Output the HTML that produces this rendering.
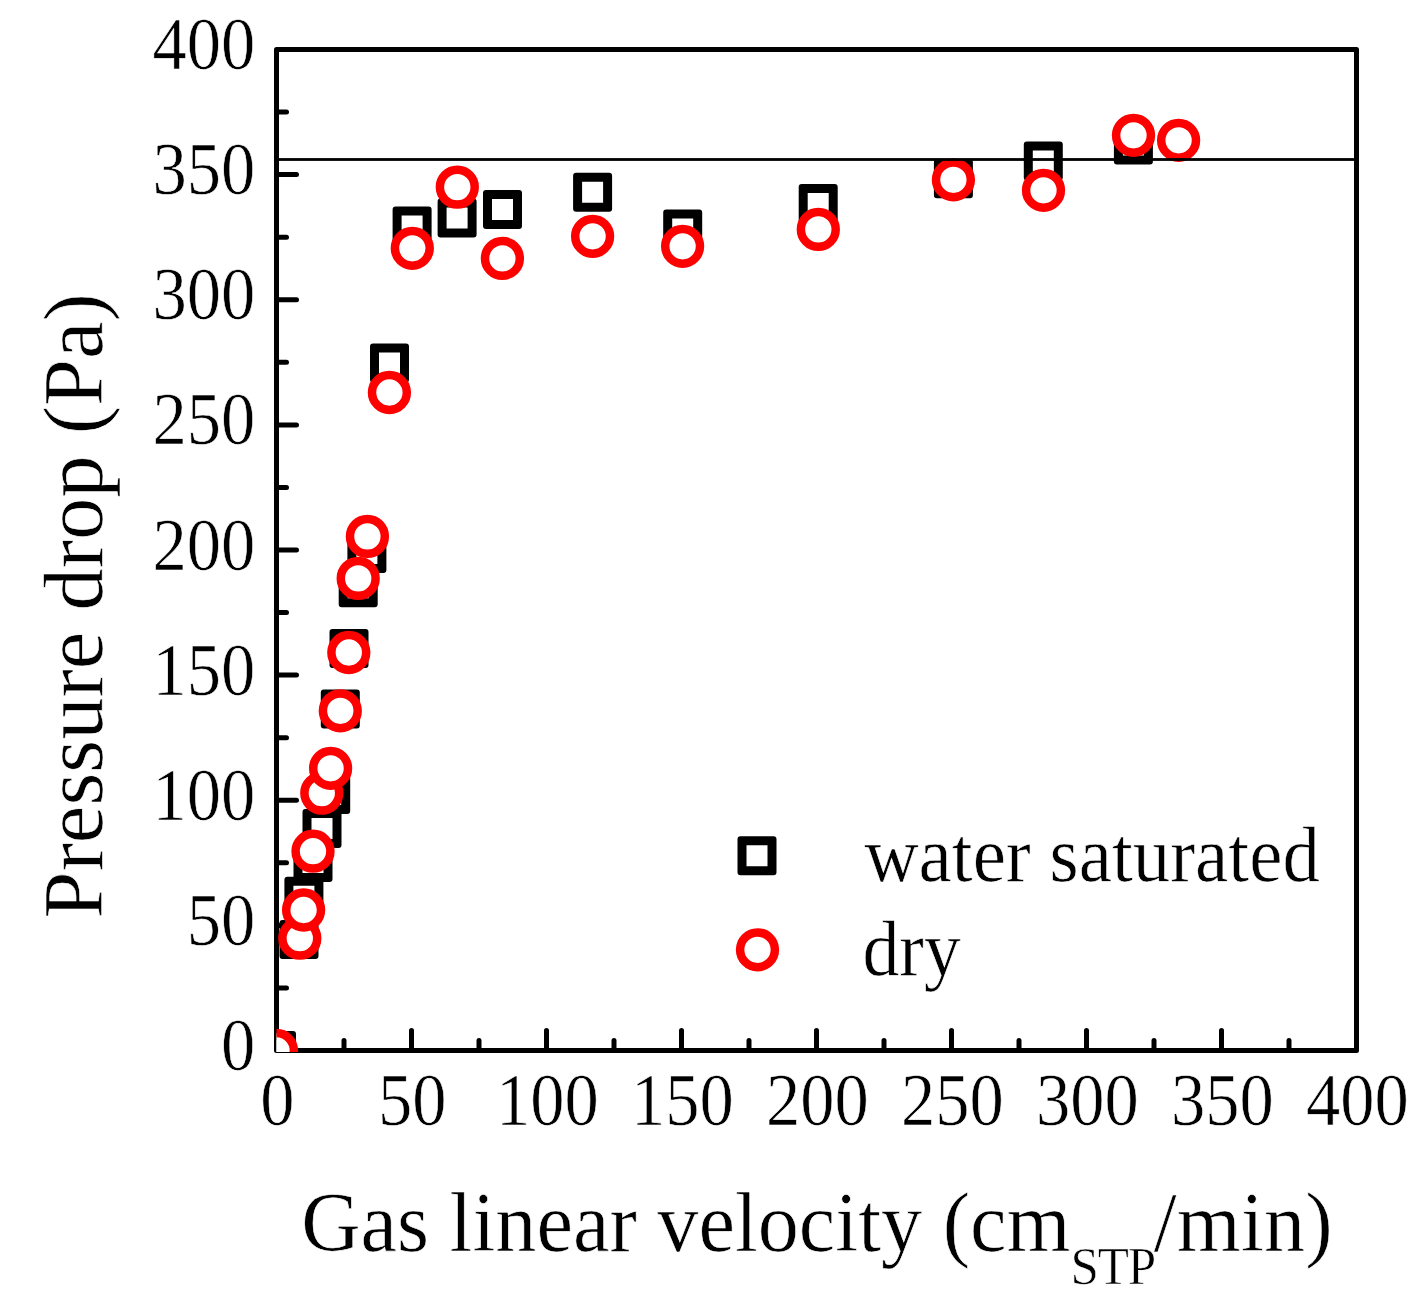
<!DOCTYPE html>
<html><head><meta charset="utf-8"><title>Pressure drop vs gas linear velocity</title>
<style>html,body{margin:0;padding:0;background:#fff;}body{width:1428px;height:1306px;overflow:hidden;}svg{display:block;}text{font-family:"Liberation Serif",serif;fill:#000;stroke:#fff;stroke-width:0.6px;}</style></head><body>
<svg width="1428" height="1306" viewBox="0 0 1428 1306">
<rect x="0" y="0" width="1428" height="1306" fill="#fff"/>
<defs><g id="sq"><rect x="-15" y="-15" width="30" height="30" fill="#fff"/><path fill="#000" fill-rule="evenodd" d="M-16.5 -19.5H16.5A3 3 0 0 1 19.5 -16.5V16.5A3 3 0 0 1 16.5 19.5H-16.5A3 3 0 0 1 -19.5 16.5V-16.5A3 3 0 0 1 -16.5 -19.5ZM-10.5 -10.5V10.5H10.5V-10.5Z"/></g></defs>
<defs><clipPath id="pc"><rect x="276.5" y="49.5" width="1081.5" height="1002.5"/></clipPath></defs>
<rect x="276.5" y="49.5" width="1080.0" height="1001.0" fill="none" stroke="#000" stroke-width="5" stroke-linejoin="round"/>
<path d="M344.00 1048.0V1040.5M279.0 987.94H286.5M411.50 1048.0V1030.5M279.0 925.38H296.5M479.00 1048.0V1040.5M279.0 862.81H286.5M546.50 1048.0V1030.5M279.0 800.25H296.5M614.00 1048.0V1040.5M279.0 737.69H286.5M681.50 1048.0V1030.5M279.0 675.12H296.5M749.00 1048.0V1040.5M279.0 612.56H286.5M816.50 1048.0V1030.5M279.0 550.00H296.5M884.00 1048.0V1040.5M279.0 487.44H286.5M951.50 1048.0V1030.5M279.0 424.88H296.5M1019.00 1048.0V1040.5M279.0 362.31H286.5M1086.50 1048.0V1030.5M279.0 299.75H296.5M1154.00 1048.0V1040.5M279.0 237.19H286.5M1221.50 1048.0V1030.5M279.0 174.62H296.5M1289.00 1048.0V1040.5M279.0 112.06H286.5" stroke="#000" stroke-width="5" stroke-linecap="round" fill="none"/>
<g clip-path="url(#pc)">
<use href="#sq" x="276.5" y="1050.5"/>
<use href="#sq" x="299.0" y="939.6"/>
<use href="#sq" x="303.9" y="896.3"/>
<use href="#sq" x="313.0" y="862.4"/>
<use href="#sq" x="322.0" y="828.6"/>
<use href="#sq" x="330.7" y="794.5"/>
<use href="#sq" x="340.3" y="708.9"/>
<use href="#sq" x="349.0" y="648.6"/>
<use href="#sq" x="358.2" y="587.7"/>
<use href="#sq" x="366.9" y="553.4"/>
<use href="#sq" x="389.5" y="363.0"/>
<use href="#sq" x="412.1" y="226.1"/>
<use href="#sq" x="457.1" y="217.9"/>
<use href="#sq" x="502.5" y="209.4"/>
<use href="#sq" x="592.6" y="192.3"/>
<use href="#sq" x="682.7" y="228.9"/>
<use href="#sq" x="818.2" y="203.4"/>
<use href="#sq" x="953.4" y="178.8"/>
<use href="#sq" x="1043.3" y="160.9"/>
<use href="#sq" x="1133.4" y="144.9"/>
<g fill="#fff" stroke="#f00" stroke-width="8.5">
<circle cx="276.5" cy="1050.5" r="17.4"/>
<circle cx="299.8" cy="938.2" r="17.4"/>
<circle cx="303.6" cy="910.0" r="17.4"/>
<circle cx="313.0" cy="851.2" r="17.4"/>
<circle cx="321.8" cy="793.1" r="17.4"/>
<circle cx="330.6" cy="768.3" r="17.4"/>
<circle cx="340.3" cy="710.8" r="17.4"/>
<circle cx="348.8" cy="652.5" r="17.4"/>
<circle cx="358.2" cy="578.4" r="17.4"/>
<circle cx="367.4" cy="536.4" r="17.4"/>
<circle cx="389.4" cy="392.5" r="17.4"/>
<circle cx="412.3" cy="248.3" r="17.4"/>
<circle cx="457.3" cy="187.1" r="17.4"/>
<circle cx="502.4" cy="258.4" r="17.4"/>
<circle cx="592.6" cy="236.3" r="17.4"/>
<circle cx="682.6" cy="246.3" r="17.4"/>
<circle cx="818.3" cy="229.4" r="17.4"/>
<circle cx="953.4" cy="179.8" r="17.4"/>
<circle cx="1043.5" cy="190.3" r="17.4"/>
<circle cx="1133.5" cy="135.3" r="17.4"/>
<circle cx="1178.6" cy="140.3" r="17.4"/>
</g>
</g>
<rect x="276.5" y="158.1" width="1080.0" height="2.8" fill="#000"/>
<use href="#sq" x="757.0" y="855.7"/>
<circle cx="757.5" cy="949.8" r="17.4" fill="#fff" stroke="#f00" stroke-width="8.5"/>
<text transform="translate(255.30 1070.00) scale(0.9350 1)" font-size="73.30" text-anchor="end">0</text>
<text transform="translate(277.30 1125.30) scale(0.9350 1)" font-size="73.30" text-anchor="middle">0</text>
<text transform="translate(255.30 944.88) scale(0.9350 1)" font-size="73.30" text-anchor="end">50</text>
<text transform="translate(412.30 1125.30) scale(0.9350 1)" font-size="73.30" text-anchor="middle">50</text>
<text transform="translate(255.30 819.75) scale(0.9350 1)" font-size="73.30" text-anchor="end">100</text>
<text transform="translate(547.30 1125.30) scale(0.9350 1)" font-size="73.30" text-anchor="middle">100</text>
<text transform="translate(255.30 694.62) scale(0.9350 1)" font-size="73.30" text-anchor="end">150</text>
<text transform="translate(682.30 1125.30) scale(0.9350 1)" font-size="73.30" text-anchor="middle">150</text>
<text transform="translate(255.30 569.50) scale(0.9350 1)" font-size="73.30" text-anchor="end">200</text>
<text transform="translate(817.30 1125.30) scale(0.9350 1)" font-size="73.30" text-anchor="middle">200</text>
<text transform="translate(255.30 444.38) scale(0.9350 1)" font-size="73.30" text-anchor="end">250</text>
<text transform="translate(952.30 1125.30) scale(0.9350 1)" font-size="73.30" text-anchor="middle">250</text>
<text transform="translate(255.30 319.25) scale(0.9350 1)" font-size="73.30" text-anchor="end">300</text>
<text transform="translate(1087.30 1125.30) scale(0.9350 1)" font-size="73.30" text-anchor="middle">300</text>
<text transform="translate(255.30 194.12) scale(0.9350 1)" font-size="73.30" text-anchor="end">350</text>
<text transform="translate(1222.30 1125.30) scale(0.9350 1)" font-size="73.30" text-anchor="middle">350</text>
<text transform="translate(255.30 69.00) scale(0.9350 1)" font-size="73.30" text-anchor="end">400</text>
<text transform="translate(1357.30 1125.30) scale(0.9350 1)" font-size="73.30" text-anchor="middle">400</text>
<text transform="translate(864.50 880.60) scale(0.9480 1)" font-size="79.00" text-anchor="start">water saturated</text>
<text transform="translate(862.50 974.60) scale(0.9330 1)" font-size="79.00" text-anchor="start">dry</text>
<text transform="translate(301.2 1250.7) scale(0.9640 1)" font-size="85.3">Gas linear velocity (cm<tspan font-size="53" dy="33.0" letter-spacing="-1.2">STP</tspan><tspan dy="-33.0" dx="-1.5" letter-spacing="0.25">/min)</tspan></text>
<text transform="translate(102.20 918.40) rotate(-90) scale(1.0123 1)" font-size="83.60" text-anchor="start">Pressure drop (Pa)</text>
</svg></body></html>
